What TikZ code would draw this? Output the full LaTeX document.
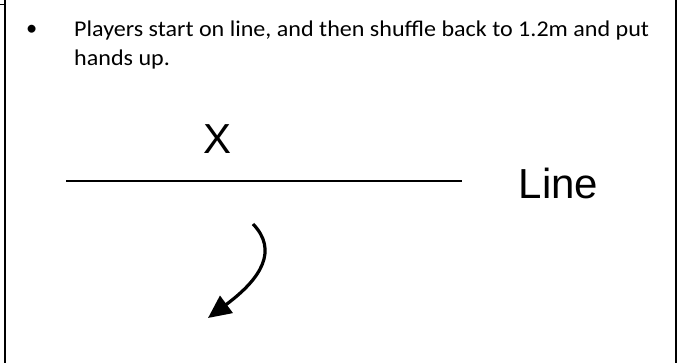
\documentclass[tikz,border=0pt]{standalone}
\usepackage{fontspec}
\setmainfont{Carlito}
\newfontfamily\bodyfont[FakeStretch=1.07]{Carlito}
\newfontfamily\arialfont{Liberation Sans}
\usetikzlibrary{arrows.meta}
\begin{document}
\begin{tikzpicture}[x=1pt,y=-1pt,
  border/.style={line width=2pt},
  bodytext/.style={font=\bodyfont\fontsize{22.5}{29}\selectfont,anchor=base west,inner sep=0pt},
  bigtext/.style={font=\arialfont\fontsize{42}{42}\selectfont,inner sep=0pt},
  fieldline/.style={line width=2.2pt},
  move/.style={line width=3.2pt,-{Triangle[length=23pt,width=21pt]}}]
\useasboundingbox (0,0) rectangle (681,363);
\coordinate (tl) at (4.5,0);
\coordinate (bl) at (4.5,363);
\coordinate (tr) at (675.5,0);
\coordinate (br) at (675.5,363);
\coordinate (tick) at (0,4.5);
\coordinate (tickend) at (4.5,4.5);
\draw[border] (tl) -- (bl);
\draw[border] (tr) -- (br);
\draw[line width=1.2pt] (tick) -- (tickend);
\node[font=\fontsize{22.4}{29}\selectfont,inner sep=0pt] (bullet) at (31.7,30) {\textbullet};
\node[bodytext] (txt1) at (74,36.7) {Players start on line, and then shuffle back to 1.2m and put};
\node[bodytext] (txt2) at (74,65.7) {hands up.};
\coordinate (la) at (66,181);
\coordinate (lb) at (462,181);
\draw[fieldline] (la) -- (lb);
\node[bigtext] (x) at (217.5,139.5) {X};
\node[bigtext] (line) at (558.5,183) {Line};
\coordinate (as) at (253,224);
\coordinate (ae) at (208,318);
\draw[move] (as) .. controls (278,250) and (262,278) .. (ae);
\end{tikzpicture}
\end{document}
